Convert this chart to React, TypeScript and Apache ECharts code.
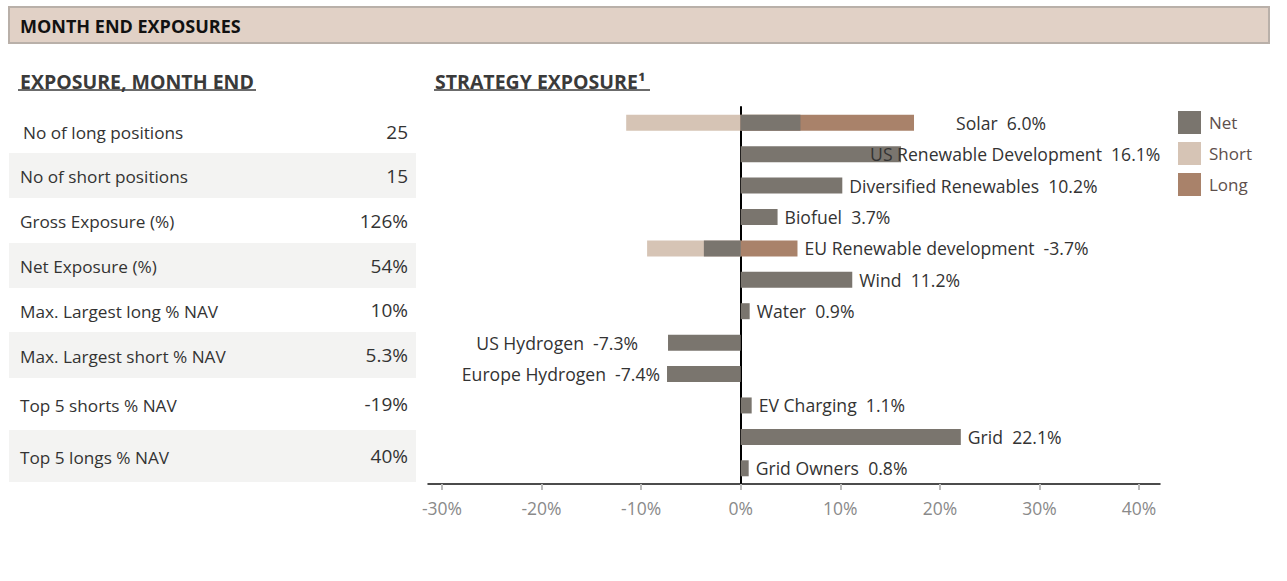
import React, { useEffect, useRef } from "react";
import * as echarts from "echarts";

// ---- Data ----
const categories = [
  "Solar",
  "US Renewable Development",
  "Diversified Renewables",
  "Biofuel",
  "EU Renewable development",
  "Wind",
  "Water",
  "US Hydrogen",
  "Europe Hydrogen",
  "EV Charging",
  "Grid",
  "Grid Owners",
];
const netValues = [6.0, 16.1, 10.2, 3.7, -3.7, 11.2, 0.9, -7.3, -7.4, 1.1, 22.1, 0.8];
const shortValues: (number | null)[] = [-11.5, null, null, null, -9.4, null, null, null, null, null, null, null];
const longValues: (number | null)[] = [17.4, null, null, null, 5.7, null, null, null, null, null, null, null];
const axisTicks = [-30, -20, -10, 0, 10, 20, 30, 40];

const tableLabels = [
  "No of long positions",
  "No of short positions",
  "Gross Exposure (%)",
  "Net Exposure (%)",
  "Max. Largest long % NAV",
  "Max. Largest short % NAV",
  "Top 5 shorts % NAV",
  "Top 5 longs % NAV",
];
const tableValues = ["25", "15", "126%", "54%", "10%", "5.3%", "-19%", "40%"];

// ---- Layout / style ----
const FONT = "'Open Sans', 'Noto Sans', sans-serif";
const rowEdges = [110, 153, 198, 243, 288, 332, 378, 430, 482];
const labelOffsets: Record<string, [number, number]> = {
  Solar: [35, 0],
  "US Renewable Development": [-38, 0],
  "US Hydrogen": [-23, 0],
};
const C_NET = "#7a756e";
const C_SHORT = "#d6c4b5";
const C_LONG = "#a9826a";

export default function App() {
  const ref = useRef<HTMLDivElement>(null);

  useEffect(() => {
    document.body.style.margin = "0";
    if (!ref.current) return;
    const chart = echarts.init(ref.current, undefined, { renderer: "svg" });

    const graphics: any[] = [];
    graphics.push({
      type: "rect",
      shape: { x: 9, y: 7, width: 1260, height: 36 },
      style: { fill: "#e1d1c6", stroke: "#b9b0a9", lineWidth: 2 },
      z: 0,
    });
    graphics.push({
      type: "text",
      x: 20,
      y: 26,
      style: {
        text: "MONTH END EXPOSURES",
        font: `bold 18px ${FONT}`,
        fill: "#111111",
        verticalAlign: "middle",
      },
    });
    graphics.push({
      type: "text",
      x: 20,
      y: 81,
      style: {
        text: "EXPOSURE, MONTH END",
        font: `bold 19.5px ${FONT}`,
        fill: "#3a3a3a",
        verticalAlign: "middle",
      },
    });
    graphics.push({
      type: "line",
      shape: { x1: 18, y1: 90, x2: 256, y2: 90 },
      style: { stroke: "#3a3a3a", lineWidth: 1.5 },
    });
    graphics.push({
      type: "text",
      x: 435,
      y: 81,
      style: {
        text: "STRATEGY EXPOSURE¹",
        font: `bold 19.5px ${FONT}`,
        fill: "#3a3a3a",
        verticalAlign: "middle",
      },
    });
    graphics.push({
      type: "line",
      shape: { x1: 434, y1: 90, x2: 650, y2: 90 },
      style: { stroke: "#3a3a3a", lineWidth: 1.5 },
    });

    tableLabels.forEach((lab, i) => {
      const y0 = rowEdges[i];
      const y1 = rowEdges[i + 1];
      if (i % 2 === 1) {
        graphics.push({
          type: "rect",
          shape: { x: 9, y: y0, width: 407, height: y1 - y0 },
          style: { fill: "#f3f3f2" },
          z: 0,
        });
      }
      const yc = (y0 + y1) / 2 + 1;
      graphics.push({
        type: "text",
        x: i === 0 ? 23 : 20,
        y: yc,
        style: {
          text: lab,
          font: `17.2px ${FONT}`,
          fill: "#333333",
          verticalAlign: "middle",
        },
      });
      graphics.push({
        type: "text",
        x: 408,
        y: yc - 1,
        style: {
          text: tableValues[i],
          font: `19px ${FONT}`,
          fill: "#333333",
          align: "right",
          verticalAlign: "middle",
        },
      });
    });

    const extent = categories.map((c, i) => {
      const l = longValues[i];
      return l != null ? l : netValues[i];
    });

    const labelData = extent.map((v, i) => ({
      value: v,
      label: {
        position: v >= 0 ? "right" : "left",
        offset: labelOffsets[categories[i]] || [0, 0],
      },
    }));

    const option: any = {
      animation: false,
      textStyle: { fontFamily: FONT },
      grid: { left: 428, right: 127, top: 107, bottom: 97, containLabel: false },
      legend: {
        data: ["Net", "Short", "Long"],
        orient: "vertical",
        left: 1178,
        top: 111,
        itemWidth: 23,
        itemHeight: 23,
        itemGap: 8,
        icon: "rect",
        padding: 0,
        selectedMode: false,
        textStyle: { fontSize: 17, color: "#5e4f4c", fontFamily: FONT, padding: [0, 0, 0, 3] },
      },
      xAxis: {
        type: "value",
        min: -31.4,
        max: 42.1,
        splitLine: { show: false },
        axisLine: { show: true, lineStyle: { color: "#111111", width: 1.5 } },
        axisTick: {
          show: true,
          customValues: axisTicks,
          length: 6,
          lineStyle: { color: "#bbbbbb", width: 2 },
        },
        axisLabel: {
          customValues: axisTicks,
          formatter: (v: number) => `${v}%`,
          color: "#8a8a8a",
          fontSize: 17.5,
          margin: 15,
          fontFamily: FONT,
        },
      },
      yAxis: {
        type: "category",
        data: categories,
        inverse: true,
        axisLabel: { show: false },
        axisTick: { show: false },
        axisLine: { show: true, onZero: true, lineStyle: { color: "#000000", width: 2 } },
        splitLine: { show: false },
      },
      graphic: graphics,
      series: [
        {
          name: "Short",
          type: "bar",
          data: shortValues,
          barWidth: 16,
          barGap: "-100%",
          itemStyle: { color: C_SHORT },
          silent: true,
        },
        {
          name: "Long",
          type: "bar",
          data: longValues,
          barWidth: 16,
          barGap: "-100%",
          itemStyle: { color: C_LONG },
          silent: true,
        },
        {
          name: "Net",
          type: "bar",
          data: netValues,
          barWidth: 16,
          barGap: "-100%",
          itemStyle: { color: C_NET },
          silent: true,
        },
        {
          name: "labels",
          type: "bar",
          data: labelData,
          barWidth: 16,
          barGap: "-100%",
          itemStyle: { color: "rgba(0,0,0,0)" },
          silent: true,
          z: 5,
          label: {
            show: true,
            distance: 7,
            color: "#333333",
            fontSize: 17.6,
            fontFamily: FONT,
            formatter: (p: any) => `${p.name}  ${netValues[p.dataIndex].toFixed(1)}%`,
          },
        },
      ],
    };

    chart.setOption(option);
    return () => chart.dispose();
  }, []);

  return (
    <div
      ref={ref}
      style={{ position: "absolute", left: 0, top: 0, width: 1287, height: 581, background: "#ffffff" }}
    />
  );
}
